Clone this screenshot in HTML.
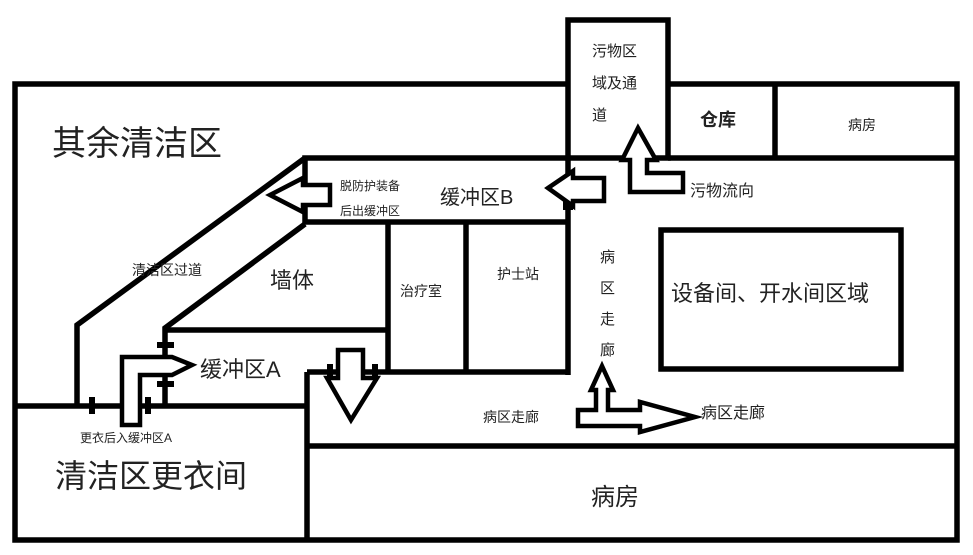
<!DOCTYPE html>
<html><head><meta charset="utf-8"><style>
html,body{margin:0;padding:0;background:#fff;}
svg{display:block;}
text{font-family:"Liberation Sans","Noto Sans CJK SC",sans-serif;fill:#222;}
</style></head><body>
<svg width="973" height="555" viewBox="0 0 973 555" xmlns="http://www.w3.org/2000/svg">
<g fill="none" stroke="#000" stroke-width="5.5" stroke-linejoin="miter">
<polyline points="570,84 15,84 15,540 957,540 957,84 668,84"/>
<rect x="568" y="20" width="100" height="138" fill="#fff"/>
<line x1="668" y1="158" x2="957" y2="158"/>
<line x1="775" y1="84" x2="775" y2="158"/>
<polyline points="568,158 305,158 305,222 568,222"/>
<line x1="568" y1="158" x2="568" y2="375"/>
<line x1="388" y1="222" x2="388" y2="372"/>
<line x1="466" y1="222" x2="466" y2="372"/>
<line x1="307" y1="372" x2="568" y2="372"/>
<polyline points="305,158 77,325 77,405"/>
<polyline points="305,224 165,328 165,405"/>
<line x1="165" y1="330" x2="388" y2="330"/>
<line x1="15" y1="406" x2="307" y2="406"/>
<line x1="307" y1="372" x2="307" y2="540"/>
<line x1="307" y1="446" x2="957" y2="446"/>
<rect x="661" y="230" width="240" height="139"/>
</g>
<g fill="#000">
<rect x="89" y="397" width="6" height="17"/>
<rect x="145" y="397" width="6" height="17"/>
<rect x="157" y="342" width="17" height="6"/>
<rect x="157" y="381" width="17" height="6"/>
<rect x="327" y="364" width="6" height="17"/>
<rect x="372" y="364" width="6" height="17"/>
<rect x="563" y="184" width="10" height="26"/>
</g>
<g fill="#fff" stroke="#000" stroke-width="4.5" stroke-linejoin="miter">
<polygon points="270,195 303,178 303,185 330,185 330,205 303,205 303,212"/>
<polygon points="548,188 573,171 573,178 604,178 604,201 573,201 573,206"/>
<polygon points="638,128 656,160 647,160 647,173 683,173 683,192 630,192 630,160 622,160"/>
<polygon points="122,425 122,357 172,357 192,365 172,375 140,375 140,425"/>
<polygon points="338,350 363,350 363,378 377,378 351,420 327,378 338,378"/>
<polygon points="602,366 613,390 608,390 608,410 640,410 640,402 695,417 640,432 640,426 578,426 578,410 596,410 596,390 591,390"/>
</g>
<text x="52" y="155" font-size="34">其余清洁区</text>
<text x="132" y="275" font-size="14">清洁区过道</text>
<text x="270" y="288" font-size="22">墙体</text>
<text x="200" y="377" font-size="22">缓冲区A</text>
<text x="80" y="442" font-size="12">更衣后入缓冲区A</text>
<text x="55" y="487" font-size="32">清洁区更衣间</text>
<text x="340" y="190" font-size="12">脱防护装备</text>
<text x="340" y="215" font-size="12">后出缓冲区</text>
<text x="440" y="204" font-size="20">缓冲区B</text>
<text x="400" y="296" font-size="14">治疗室</text>
<text x="497" y="279" font-size="14">护士站</text>
<text x="600" y="262" font-size="15">病</text>
<text x="600" y="293" font-size="15">区</text>
<text x="600" y="324" font-size="15">走</text>
<text x="600" y="355" font-size="15">廊</text>
<text x="671" y="301" font-size="22">设备间、开水间区域</text>
<text x="483" y="422" font-size="14">病区走廊</text>
<text x="701" y="418" font-size="16">病区走廊</text>
<text x="591" y="505" font-size="24">病房</text>
<text x="592" y="56" font-size="15">污物区</text>
<text x="592" y="88" font-size="15">域及通</text>
<text x="592" y="120" font-size="15">道</text>
<text x="700" y="126" font-size="18" font-weight="bold">仓库</text>
<text x="848" y="130" font-size="14">病房</text>
<text x="690" y="196" font-size="16">污物流向</text>
</svg>
</body></html>
